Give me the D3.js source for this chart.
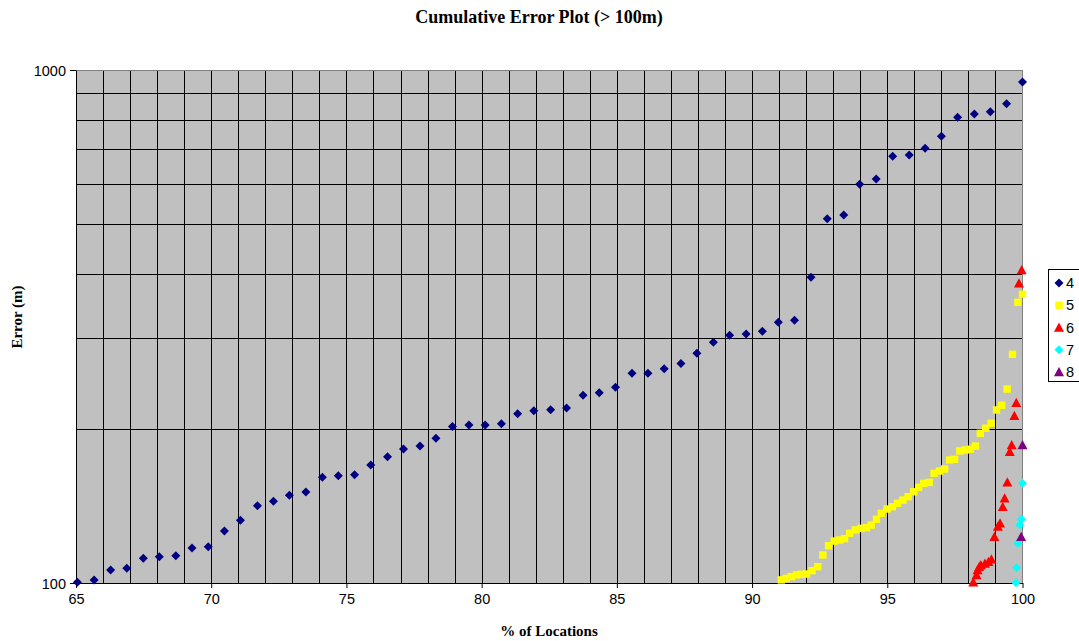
<!DOCTYPE html>
<html>
<head>
<meta charset="utf-8">
<script src="https://cdn.jsdelivr.net/npm/d3@7"></script>
<style>
  html, body { margin: 0; padding: 0; background: #ffffff; }
  svg { display: block; }
</style>
</head>
<body>
<svg id="chart" width="1079" height="641"></svg>
<script>
// ---------------- DATA ----------------
const chartTitle = "Cumulative Error Plot (> 100m)";
const xLabel = "% of Locations";
const yLabel = "Error (m)";
const xTicks = [65, 70, 75, 80, 85, 90, 95, 100];
const yTicks = [100, 1000];
const yGrid = [200, 300, 400, 500, 600, 700, 800, 900];
const seriesNames = ["4", "5", "6", "7", "8"];

const series4 = [
  [65.05,100.3],[65.67,101.4],[66.28,106.0],[66.88,106.8],[67.49,111.7],[68.08,112.5],
  [68.69,113.0],[69.29,117.0],[69.89,117.7],[70.49,126.3],[71.08,132.5],[71.71,141.5],
  [72.30,144.3],[72.89,148.2],[73.50,150.4],[74.11,160.7],[74.70,161.9],[75.30,162.6],
  [75.90,169.9],[76.52,176.3],[77.11,182.5],[77.72,184.9],[78.31,191.5],[78.92,201.8],
  [79.53,203.2],[80.13,203.2],[80.73,204.4],[81.33,213.8],[81.93,216.7],[82.55,217.7],
  [83.14,219.4],[83.75,232.2],[84.35,234.9],[84.95,240.7],[85.56,256.4],[86.15,256.4],
  [86.75,261.7],[87.37,267.7],[87.96,280.4],[88.57,294.6],[89.17,304.0],[89.78,305.8],
  [90.38,309.5],[90.97,322.3],[91.57,325.2],[92.18,394.5],[92.78,513.1],[93.39,521.7],
  [93.98,598.7],[94.59,613.2],[95.20,679.0],[95.81,683.0],[96.40,703.9],[97.00,742.8],
  [97.60,808.9],[98.22,821.0],[98.81,829.5],[99.41,859.8],[100.0,947.6]
];
const series5 = [
  [91.08,101.4],[91.27,102.1],[91.45,102.9],[91.64,103.7],[91.82,104.0],[92.01,104.1],
  [92.22,105.7],[92.43,107.6],[92.62,113.4],[92.83,118.2],[93.04,120.7],[93.24,121.3],
  [93.42,122.0],[93.61,125.0],[93.82,126.9],[94.03,127.8],[94.23,128.2],[94.41,129.7],
  [94.60,133.1],[94.78,136.7],[94.99,139.4],[95.19,140.8],[95.38,143.0],[95.58,145.1],
  [95.77,147.3],[95.98,150.6],[96.16,153.6],[96.35,156.4],[96.55,157.1],[96.73,163.6],
  [96.93,165.3],[97.12,166.8],[97.31,173.7],[97.49,174.2],[97.68,180.9],[97.88,181.7],
  [98.07,182.3],[98.26,184.9],[98.44,195.8],[98.64,200.3],[98.84,204.8],[99.04,217.4],
  [99.23,222.0],[99.43,238.8],[99.63,279.1],[99.83,352.6],[100.0,365.5]
];
const series6 = [
  [98.18,100.3],[98.30,103.7],[98.34,106.0],[98.40,107.6],[98.46,108.4],[98.61,109.2],
  [98.74,110.0],[98.85,111.2],[98.96,123.1],[99.09,128.8],[99.17,130.7],[99.27,140.8],
  [99.34,146.3],[99.44,157.1],[99.53,180.3],[99.60,185.8],[99.70,211.9],[99.77,224.6],
  [99.87,383.9],[99.97,407.5]
];
const series7 = [
  [99.76,100.1],[99.78,107.1],[99.83,119.5],[99.90,129.7],[99.96,133.1],[100.0,156.4]
];
const series8 = [
  [99.95,123.1],[100.0,185.8]
];

// ---------------- CHART ----------------
const svg = d3.select("#chart");
const plot = { left: 76, right: 1022.5, top: 70, bottom: 583 };

const x = d3.scaleLinear().domain([65, 100]).range([plot.left, plot.right]);
const y = d3.scaleLog().domain([100, 1000]).range([plot.bottom, plot.top]);

// plot background
svg.append("rect")
  .attr("x", plot.left).attr("y", plot.top)
  .attr("width", plot.right - plot.left).attr("height", plot.bottom - plot.top)
  .attr("fill", "#c0c0c0");

// grid
const grid = svg.append("g").attr("shape-rendering", "crispEdges");
grid.selectAll("line.v").data(d3.range(66, 100, 1)).join("line")
  .attr("class", "v")
  .attr("x1", d => Math.round(x(d)) + 0.5).attr("x2", d => Math.round(x(d)) + 0.5)
  .attr("y1", plot.top).attr("y2", plot.bottom)
  .attr("stroke", "#000").attr("stroke-width", 1);
grid.selectAll("line.h").data(yGrid).join("line")
  .attr("class", "h")
  .attr("x1", plot.left).attr("x2", plot.right)
  .attr("y1", d => Math.round(y(d)) + 0.5).attr("y2", d => Math.round(y(d)) + 0.5)
  .attr("stroke", "#000").attr("stroke-width", 1);

// top & right border (gray)
svg.append("path")
  .attr("d", `M${plot.left},${plot.top + 0.5}H${plot.right}V${plot.bottom}`)
  .attr("fill", "none").attr("stroke", "#808080").attr("stroke-width", 1.5)
  .attr("shape-rendering", "crispEdges");

// axes
const xAxis = svg.append("g")
  .attr("transform", `translate(0,${plot.bottom})`)
  .call(d3.axisBottom(x).tickValues(xTicks).tickSize(5).tickSizeOuter(0).tickPadding(6).tickFormat(d3.format("d")));
const yAxis = svg.append("g")
  .attr("transform", `translate(${plot.left},0)`)
  .call(d3.axisLeft(y).tickValues(yTicks).tickSize(6).tickSizeOuter(0).tickPadding(4).tickFormat(d3.format("d")));
[xAxis, yAxis].forEach(g => {
  g.selectAll("path.domain").attr("stroke", "#000").attr("stroke-width", 1);
  g.selectAll(".tick line").attr("stroke", "#000");
  g.selectAll("text").attr("font-family", "'Liberation Sans', Arial, sans-serif")
    .attr("font-size", 14.5).attr("fill", "#000");
});
yAxis.selectAll(".tick text").attr("dy", "0.36em");

// markers
const diamond = (cx, cy, r) => `M${cx},${cy - r}L${cx + r},${cy}L${cx},${cy + r}L${cx - r},${cy}Z`;
const square = (cx, cy, r) => `M${cx - r},${cy - r}H${cx + r}V${cy + r}H${cx - r}Z`;
const triangle = (cx, cy, r) => `M${cx},${cy - r}L${cx + r},${cy + r * 0.85}L${cx - r},${cy + r * 0.85}Z`;

const seriesDefs = [
  { name: seriesNames[0], data: series4, color: "#000080", shape: diamond, r: 4.5 },
  { name: seriesNames[1], data: series5, color: "#ffff00", shape: square, r: 3.7 },
  { name: seriesNames[2], data: series6, color: "#ff0000", shape: triangle, r: 5 },
  { name: seriesNames[3], data: series7, color: "#00ffff", shape: diamond, r: 4.5 },
  { name: seriesNames[4], data: series8, color: "#800080", shape: triangle, r: 5 }
];

seriesDefs.forEach(s => {
  svg.append("g").selectAll("path").data(s.data).join("path")
    .attr("d", d => s.shape(x(d[0]), y(d[1]), s.r))
    .attr("fill", s.color);
});

// title & axis labels
svg.append("text")
  .attr("x", 539).attr("y", 23)
  .attr("text-anchor", "middle")
  .attr("font-family", "'Liberation Serif', 'Times New Roman', serif")
  .attr("font-weight", "bold").attr("font-size", 18)
  .text(chartTitle);
svg.append("text")
  .attr("x", 549).attr("y", 636)
  .attr("text-anchor", "middle")
  .attr("font-family", "'Liberation Serif', 'Times New Roman', serif")
  .attr("font-weight", "bold").attr("font-size", 15)
  .text(xLabel);
svg.append("text")
  .attr("transform", "translate(22,317) rotate(-90)")
  .attr("text-anchor", "middle")
  .attr("font-family", "'Liberation Serif', 'Times New Roman', serif")
  .attr("font-weight", "bold").attr("font-size", 15)
  .text(yLabel);

// legend
const legend = svg.append("g");
legend.append("rect")
  .attr("x", 1048.5).attr("y", 269.5).attr("width", 40).attr("height", 112)
  .attr("fill", "#fff").attr("stroke", "#000").attr("stroke-width", 1);
const legendY = d3.scalePoint().domain(seriesNames).range([283, 372]);
seriesDefs.forEach(s => {
  const cy = legendY(s.name);
  legend.append("path").attr("d", s.shape(1059, cy, s.r)).attr("fill", s.color);
  legend.append("text")
    .attr("x", 1066).attr("y", cy).attr("dy", "0.36em")
    .attr("font-family", "'Liberation Sans', Arial, sans-serif")
    .attr("font-size", 14.5).attr("fill", "#000")
    .text(s.name);
});
</script>
</body>
</html>
